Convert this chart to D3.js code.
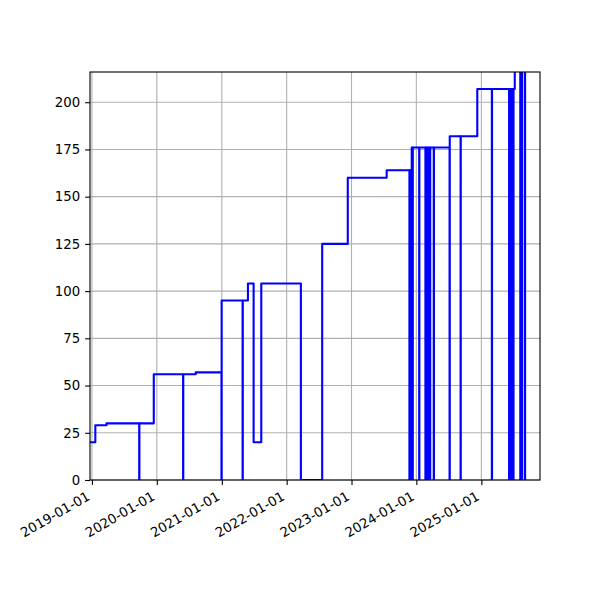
<!DOCTYPE html>
<html>
<head>
<meta charset="utf-8">
<script src="https://cdn.jsdelivr.net/npm/d3@7"></script>
<style>
  body { margin: 0; background: #fff; }
  svg { display: block; }
</style>
</head>
<body>
<svg width="600" height="600"></svg>
<script>
// step series: the date each value starts, and the value held from there
const stepDates = [
  "2018-12-21", "2019-01-20", "2019-03-24", "2019-09-24", "2019-09-25",
  "2019-12-15", "2020-05-28", "2020-05-29", "2020-08-07", "2020-12-30",
  "2020-12-31", "2021-04-28", "2021-04-29", "2021-05-28", "2021-06-29",
  "2021-08-11", "2022-03-22", "2022-07-20", "2022-12-11", "2023-07-18",
  "2023-11-23", "2023-11-24", "2023-11-29", "2023-11-30", "2023-12-05",
  "2023-12-06", "2023-12-11", "2023-12-12",
  "2024-01-17", "2024-01-18", "2024-02-21", "2024-02-22", "2024-02-28",
  "2024-02-29", "2024-03-09", "2024-03-10", "2024-03-18", "2024-03-19",
  "2024-04-08", "2024-04-09", "2024-07-06", "2024-07-07", "2024-09-06",
  "2024-09-07", "2024-12-09", "2025-03-01", "2025-03-02", "2025-06-06",
  "2025-06-07", "2025-06-18", "2025-06-19", "2025-06-30", "2025-07-01",
  "2025-07-08", "2025-08-08", "2025-08-09", "2025-08-17", "2025-08-18",
  "2025-09-03", "2025-09-04", "2025-11-27"
];
const stepValues = [
  20, 29, 30, 0, 30,
  56, 0, 56, 57, 0,
  95, 0, 95, 104, 20,
  104, 0, 125, 160, 164,
  0, 164, 0, 164, 0,
  176, 0, 176,
  0, 176, 0, 176, 0,
  176, 0, 176, 0, 176,
  0, 176, 0, 182, 0,
  182, 207, 0, 207, 0,
  207, 0, 207, 0, 207,
  231, 0, 231, 0, 231,
  0, 231, 231
];

const yTicks = [0, 25, 50, 75, 100, 125, 150, 175, 200];
const yMax = 216;
const xTickYears = [2019, 2020, 2021, 2022, 2023, 2024, 2025];

const parse = d3.utcParse("%Y-%m-%d");
const data = stepDates.map((d, i) => ({ date: parse(d), value: stepValues[i] }));

const margin = { top: 72, right: 60, bottom: 120, left: 90 };
const width = 600, height = 600;
const fontFamily = "DejaVu Sans, sans-serif";

const svg = d3.select("svg");

const x = d3.scaleUtc()
  .domain(d3.extent(data, d => d.date))
  .range([margin.left, width - margin.right]);

const y = d3.scaleLinear()
  .domain([0, yMax])
  .range([height - margin.bottom, margin.top]);

const xTicks = xTickYears.map(yr => new Date(Date.UTC(yr, 0, 1)));

// grid
svg.append("g")
  .selectAll("line.vg")
  .data(xTicks)
  .join("line")
  .attr("x1", d => x(d)).attr("x2", d => x(d))
  .attr("y1", margin.top).attr("y2", height - margin.bottom)
  .attr("stroke", "#b0b0b0").attr("stroke-width", 1.1);

svg.append("g")
  .selectAll("line.hg")
  .data(yTicks)
  .join("line")
  .attr("x1", margin.left).attr("x2", width - margin.right)
  .attr("y1", d => y(d)).attr("y2", d => y(d))
  .attr("stroke", "#b0b0b0").attr("stroke-width", 1.1);

// clip to the plot area
svg.append("clipPath").attr("id", "plot-clip")
  .append("rect")
  .attr("x", margin.left).attr("y", margin.top)
  .attr("width", width - margin.left - margin.right)
  .attr("height", height - margin.top - margin.bottom);

const line = d3.line()
  .x(d => x(d.date))
  .y(d => y(d.value))
  .curve(d3.curveStepAfter);

svg.append("path")
  .datum(data)
  .attr("clip-path", "url(#plot-clip)")
  .attr("fill", "none")
  .attr("stroke", "#0000ff")
  .attr("stroke-width", 2.1)
  .attr("stroke-linejoin", "round")
  .attr("d", line);

// axes
const xAxis = svg.append("g")
  .attr("transform", `translate(0, ${height - margin.bottom})`)
  .call(d3.axisBottom(x).tickValues(xTicks)
    .tickFormat(d3.utcFormat("%Y-%m-%d")).tickSizeInner(4.9).tickSizeOuter(0).tickPadding(4.9));
xAxis.attr("font-family", fontFamily);
xAxis.select(".domain").remove();
xAxis.selectAll(".tick line").attr("stroke", "#000").attr("stroke-width", 1.1);
xAxis.selectAll(".tick text")
  .attr("font-size", 13.3)
  .attr("fill", "#000")
  .attr("text-anchor", "end")
  .attr("y", 0).attr("dy", 0)
  .attr("transform", "translate(-1.5, 19) rotate(-30)");

const yAxis = svg.append("g")
  .attr("transform", `translate(${margin.left}, 0)`)
  .call(d3.axisLeft(y).tickValues(yTicks).tickSizeInner(4.9).tickSizeOuter(0).tickPadding(4.9));
yAxis.attr("font-family", fontFamily);
yAxis.select(".domain").remove();
yAxis.selectAll(".tick line").attr("stroke", "#000").attr("stroke-width", 1.1);
yAxis.selectAll(".tick text").attr("font-size", 13.3).attr("fill", "#000");

// frame
svg.append("rect")
  .attr("x", margin.left).attr("y", margin.top)
  .attr("width", width - margin.left - margin.right)
  .attr("height", height - margin.top - margin.bottom)
  .attr("fill", "none")
  .attr("stroke", "#000")
  .attr("stroke-width", 1.1);
</script>
</body>
</html>
